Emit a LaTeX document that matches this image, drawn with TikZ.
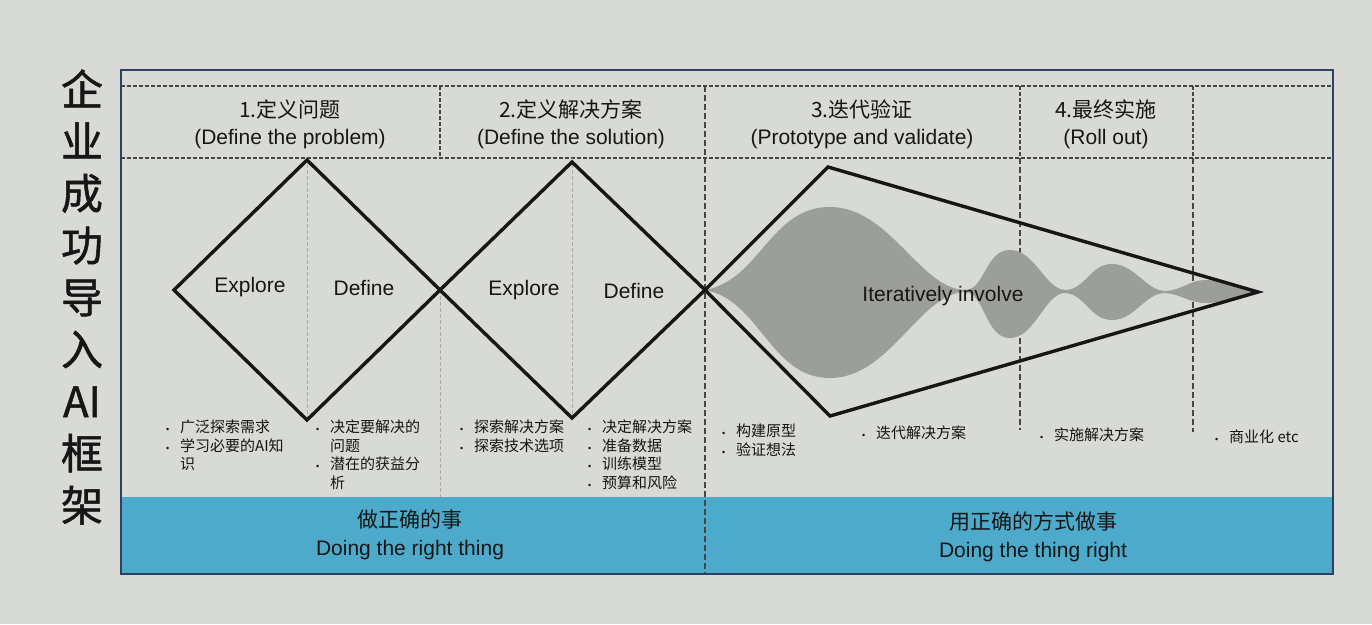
\documentclass[tikz,border=0pt]{standalone}
\usepackage{fontspec}
\setmainfont{Liberation Sans}
\newfontfamily\cjk{Noto Sans CJK SC}
\newfontfamily\cjkb[FakeBold=1.2]{Noto Sans CJK SC}
\newfontfamily\latinf{Liberation Sans}
\definecolor{bg}{RGB}{216,218,213}
\definecolor{frame}{RGB}{45,65,100}
\definecolor{band}{RGB}{78,170,202}
\definecolor{wave}{RGB}{156,158,154}
\definecolor{ink}{RGB}{22,22,22}
\definecolor{dashc}{RGB}{70,70,70}
\newcommand\bul{\makebox[14pt][l]{\latinf\fontsize{9}{9}\selectfont •}}
\newcommand\ind{\makebox[14pt]{}}
\tikzset{
  frameline/.style={draw=frame,line width=2},
  hdash/.style={draw=dashc,line width=1.1,dash pattern=on 4pt off 2pt},
  vdash/.style={draw=dashc,line width=1.5,dash pattern=on 6pt off 3pt},
  faint/.style={draw=gray!65,line width=0.8,dash pattern=on 4pt off 2pt},
  shapeline/.style={draw=ink,line width=3.4,line join=miter},
  hdr/.style={font=\fontsize{21}{27}\selectfont,align=center,text=ink},
  lbl/.style={font=\fontsize{21}{24}\selectfont,text=ink},
  bl/.style={anchor=north west,align=left,inner sep=0,text=ink,font=\cjk\fontsize{15}{18.5}\selectfont},
  bandtxt/.style={font=\fontsize{21}{28}\selectfont,align=center,text=ink}
}
\begin{document}
\begin{tikzpicture}[x=1pt,y=-1pt]
\path[use as bounding box, fill=bg] (0,0) rectangle (1372,624);
% blue band
\fill[band] (121,497) rectangle (1333,574);
% header lines
\draw[hdash] (121,86) -- (1333,86);
\draw[hdash] (121,158) -- (1333,158);
\draw[hdash] (440,86) -- (440,158);
\draw[vdash] (705,86) -- (705,574);
\draw[hdash] (1020,86) -- (1020,158);
\draw[vdash] (1020,158) -- (1020,430);
\draw[hdash] (1193,86) -- (1193,158);
\draw[vdash] (1193,158) -- (1193,432);
% faint guides
\draw[faint] (307,158) -- (307,420);
\draw[faint] (572,158) -- (572,418);
\draw[faint] (440,290) -- (440,497);
% coordinates
\coordinate (d1l) at (174,290);
\coordinate (d1t) at (307,160);
\coordinate (d1r) at (440,290);
\coordinate (d1b) at (307,420);
\coordinate (d2t) at (572,162);
\coordinate (d2r) at (705,290);
\coordinate (d2b) at (572,418);
\coordinate (kt) at (828,167);
\coordinate (kb) at (830,416);
\coordinate (kp) at (1258,292);
% wave
\fill[wave] (705,290) .. controls (760,280) and (770,207) .. (830,207)
  .. controls (890,207) and (920,289) .. (965,290)
  .. controls (985,290) and (985,250) .. (1010,250)
  .. controls (1035,250) and (1045,289) .. (1065,290)
  .. controls (1085,290) and (1090,264) .. (1112,264)
  .. controls (1135,264) and (1145,290) .. (1165,291)
  .. controls (1180,291) and (1190,280) .. (1205,280)
  .. controls (1225,280) and (1240,290) .. (1258,292)
  .. controls (1240,294) and (1225,303) .. (1205,303)
  .. controls (1190,303) and (1180,294) .. (1165,293)
  .. controls (1145,293) and (1135,320) .. (1112,320)
  .. controls (1090,320) and (1085,294) .. (1065,293)
  .. controls (1045,293) and (1035,338) .. (1010,338)
  .. controls (985,338) and (985,293) .. (965,292)
  .. controls (920,293) and (890,378) .. (830,378)
  .. controls (770,378) and (760,300) .. (705,290) -- cycle;
% shapes
\draw[shapeline] (d1l) -- (d1t) -- (d1r) -- (d1b) -- cycle;
\draw[shapeline] (d1r) -- (d2t) -- (d2r) -- (d2b) -- cycle;
\draw[shapeline] (d2r) -- (kt) -- (kp) -- (kb) -- cycle;
% header texts
\node[hdr] (h1) at (290,124) {{\cjk 1.定义问题}\\(Define the problem)};
\node[hdr] (h2) at (571,124) {{\cjk 2.定义解决方案}\\(Define the solution)};
\node[hdr] (h3) at (862,124) {{\cjk 3.迭代验证}\\(Prototype and validate)};
\node[hdr] (h4) at (1106,124) {{\cjk 4.最终实施}\\(Roll out)};
% shape labels
\node[lbl] (e1) at (250,287) {Explore};
\node[lbl] (f1) at (364,288) {Define};
\node[lbl] (e2) at (524,290) {Explore};
\node[lbl] (f2) at (634,291) {Define};
\node[lbl] (it) at (943,296) {Iteratively involve};
% bullets
\node[bl] (ba) at (166,420) {\bul 广泛探索需求\\ \bul 学习必要的AI知\\ \ind 识};
\node[bl] (bb) at (316,420) {\bul 决定要解决的\\ \ind 问题\\ \bul 潜在的获益分\\ \ind 析};
\node[bl] (bc) at (460,420) {\bul 探索解决方案\\ \bul 探索技术选项};
\node[bl] (bd) at (588,420) {\bul 决定解决方案\\ \bul 准备数据\\ \bul 训练模型\\ \bul 预算和风险};
\node[bl] (be) at (722,424) {\bul 构建原型\\ \bul 验证想法};
\node[bl] (bf) at (862,426) {\bul 迭代解决方案};
\node[bl] (bg) at (1040,428) {\bul 实施解决方案};
\node[bl] (bh) at (1215,430) {\bul 商业化 etc};
% band texts
\node[bandtxt] (t1) at (410,535) {{\cjk 做正确的事}\\Doing the right thing};
\node[bandtxt] (t2) at (1033,537) {{\cjk 用正确的方式做事}\\Doing the thing right};
% frame
\draw[frameline] (121,70) rectangle (1333,574);
% vertical title
\node[font=\cjkb\fontsize{42}{52}\selectfont,align=center,text=ink] (title) at (82,297) {企\\业\\成\\功\\导\\入\\AI\\框\\架};
\end{tikzpicture}
\end{document}
